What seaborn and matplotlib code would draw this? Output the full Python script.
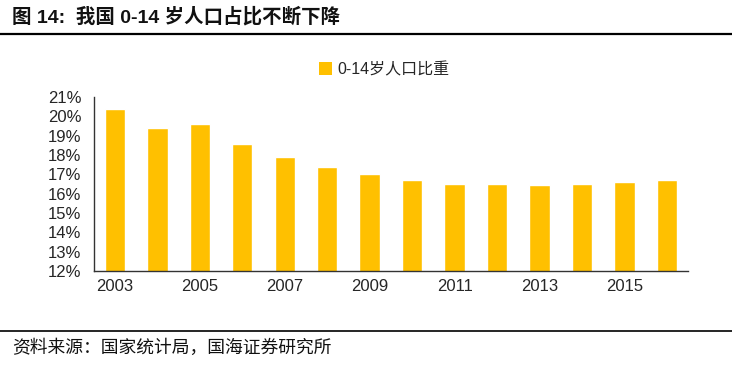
import pandas as pd
import matplotlib
matplotlib.use('Agg')
import matplotlib.pyplot as plt
import seaborn as sns
from matplotlib.lines import Line2D
from matplotlib.patches import Patch
from matplotlib.ticker import FixedLocator

# === DATA ===
years = ['2003', '2004', '2005', '2006', '2007', '2008', '2009',
         '2010', '2011', '2012', '2013', '2014', '2015', '2016']
share_0_14 = [20.4, 19.4, 19.6, 18.6, 17.9, 17.4, 17.0,
              16.7, 16.5, 16.5, 16.45, 16.5, 16.6, 16.7]
y_ticks = [12, 13, 14, 15, 16, 17, 18, 19, 20, 21]
series_name = '0-14岁人口比重'
title_text = '图 14:  我国 0-14 岁人口占比不断下降'
source_text = '资料来源：国家统计局，国海证券研究所'

df = pd.DataFrame({'year': years, 'value': share_0_14})

sns.set_style('white')
plt.rcParams['font.family'] = ['Liberation Sans', 'Noto Sans CJK SC', 'DejaVu Sans']

bar_color = '#FFC000'

fig = plt.figure(figsize=(7.32, 3.75), dpi=100)
ax = fig.add_axes([0.128, 0.277, 0.812, 0.464])

sns.barplot(data=df, x='year', y='value', color=bar_color, width=0.48,
            saturation=1, ax=ax)

# y axis: 12% .. 21%, labels only
ax.set_ylim(12, 21)
ax.set_yticks(y_ticks)
ax.set_yticklabels([f'{t}%' for t in y_ticks], fontsize=12)
ax.tick_params(axis='y', length=0, pad=9)

# x axis: label every other year, tick marks between pairs of bars
ax.set_xlim(-0.5, len(years) - 0.5)
label_pos = list(range(0, len(years), 2))
ax.set_xticks(label_pos)
ax.set_xticklabels([years[i] for i in label_pos], fontsize=12)
ax.tick_params(axis='x', which='major', length=0, pad=6)
ax.xaxis.set_minor_locator(FixedLocator([i + 1.5 for i in range(0, len(years), 2)]))
ax.tick_params(axis='x', which='minor', direction='in', length=4, width=1, color='#333333')

ax.set_xlabel('')
ax.set_ylabel('')
for side in ['top', 'right']:
    ax.spines[side].set_visible(False)
for side in ['left', 'bottom']:
    ax.spines[side].set_color('#333333')
    ax.spines[side].set_linewidth(1)

# legend
handle = Patch(facecolor=bar_color, edgecolor='none')
fig.legend([handle], [series_name], loc='center', bbox_to_anchor=(0.525, 0.815),
           frameon=False, handlelength=0.8, handleheight=0.8,
           handletextpad=0.3, prop={'family': ['Liberation Sans', 'Noto Sans CJK SC'], 'size': 11.5})

# title, rules and source
fig.text(0.016, 0.955, title_text, fontsize=14, fontweight='bold',
         ha='left', va='center', color='#111111')
fig.add_artist(Line2D([0, 1], [0.91, 0.91], color='black', linewidth=1.6))
fig.add_artist(Line2D([0, 1], [0.118, 0.118], color='black', linewidth=1.2))
fig.text(0.016, 0.072, source_text, fontsize=12.8, ha='left', va='center',
         color='#111111')

fig.savefig('out.png', dpi=100, facecolor='white')
